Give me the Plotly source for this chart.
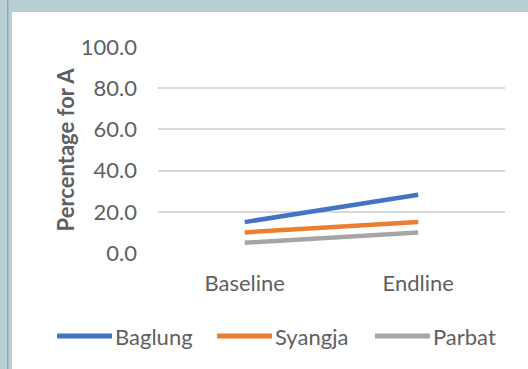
import plotly.graph_objects as go

# Survey rounds on the x axis
rounds = ["Baseline", "Endline"]

# Percentage for A per district
baglung = [15.0, 28.3]
syangja = [10.0, 15.0]
parbat = [5.0, 10.0]

series = [
    ("Baglung", baglung, "#4472C4"),
    ("Syangja", syangja, "#ED7D31"),
    ("Parbat", parbat, "#A5A5A5"),
]

y_ticks = [0, 20, 40, 60, 80, 100]
y_tick_text = ["0.0", "20.0", "40.0", "60.0", "80.0", "100.0"]

W, H = 528, 369
ML, MR, MT, MB = 158, 23, 47, 116
PW, PH = W - ML - MR, H - MT - MB

FONT = "Lato"
TXT = "#5F5F5F"
FS = 22

fig = go.Figure()
for name, vals, color in series:
    fig.add_trace(go.Scatter(
        x=rounds, y=vals, name=name, mode="lines",
        line=dict(color=color, width=4.5),
        showlegend=False,
    ))


def px_x(px):
    return (px - ML) / PW


def px_y(py):
    return 1 - (py - MT) / PH


# frame around the chart area (top band and left band with a darker rule)
frame = "#B7D0D4"
shapes = [
    dict(type="rect", xref="paper", yref="paper", x0=px_x(0), x1=px_x(W), y0=px_y(0), y1=px_y(12),
         fillcolor=frame, line_width=0, layer="below"),
    dict(type="rect", xref="paper", yref="paper", x0=px_x(0), x1=px_x(12), y0=px_y(0), y1=px_y(H),
         fillcolor=frame, line_width=0, layer="below"),
    dict(type="rect", xref="paper", yref="paper", x0=px_x(7), x1=px_x(8.5), y0=px_y(0), y1=px_y(H),
         fillcolor="#8EABAF", line_width=0, layer="below"),
]

# legend row below the axis: line sample followed by the series name
annotations = []
legend_y = px_y(336)
legend_starts = [57, 217, 375]
sample_len = 55
for (name, _, color), x0 in zip(series, legend_starts):
    shapes.append(dict(
        type="line", xref="paper", yref="paper",
        x0=px_x(x0), x1=px_x(x0 + sample_len), y0=legend_y, y1=legend_y,
        line=dict(color=color, width=5),
    ))
    annotations.append(dict(
        text=name, xref="paper", yref="paper", x=px_x(x0 + sample_len + 1), y=legend_y,
        xanchor="left", yanchor="middle", showarrow=False,
        font=dict(family=FONT, size=FS, color=TXT),
    ))

fig.update_layout(
    width=W, height=H,
    margin=dict(l=ML, r=MR, t=MT, b=MB, pad=0),
    paper_bgcolor="white", plot_bgcolor="white",
    font=dict(family=FONT, color=TXT, size=FS),
    shapes=shapes, annotations=annotations,
    showlegend=False,
    xaxis=dict(
        range=[-0.5, 1.5],
        showgrid=False, zeroline=False, showline=False, ticks="",
        tickfont=dict(size=FS, color=TXT), ticklabelstandoff=15,
    ),
    yaxis=dict(
        range=[0, 100], tickvals=y_ticks, ticktext=y_tick_text,
        showgrid=True, gridcolor="#D9D9D9", gridwidth=1.5,
        zeroline=False, showline=False, ticks="",
        tickfont=dict(size=FS, color=TXT), ticklabelstandoff=20,
        title=dict(text="<b>Percentage for A</b>", font=dict(size=FS, color=TXT), standoff=0),
    ),
)

fig.write_html("out.html")
